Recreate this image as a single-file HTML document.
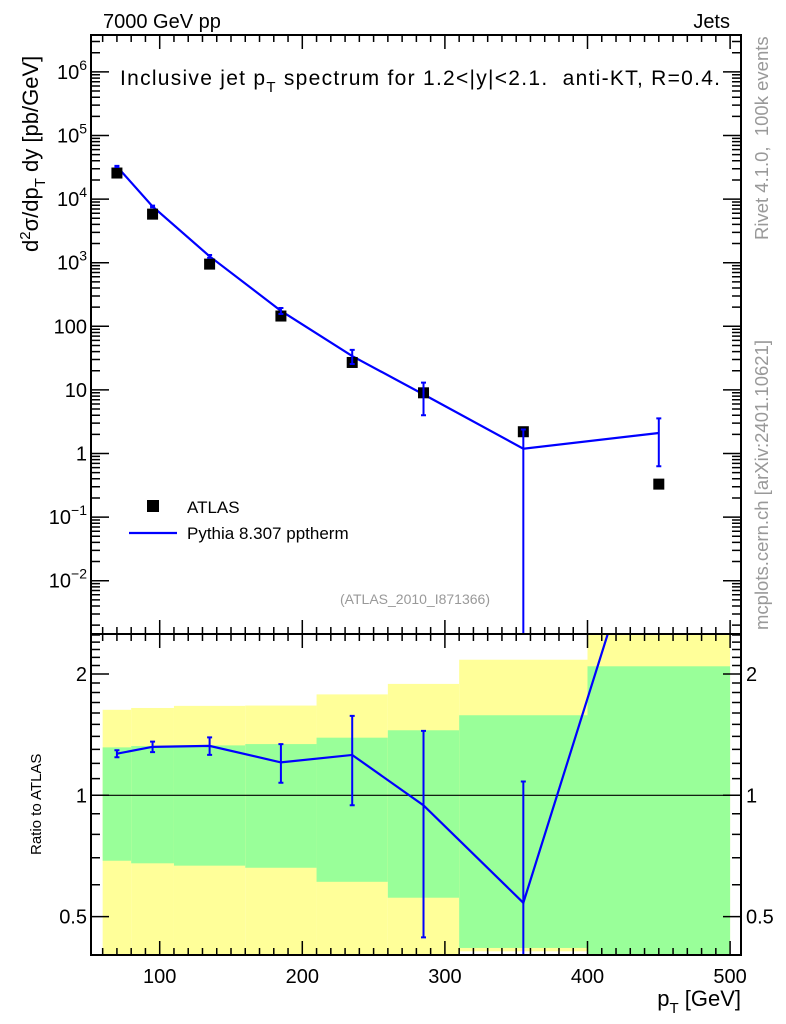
<!DOCTYPE html>
<html><head><meta charset="utf-8"><style>
body{margin:0;background:#fff}
svg{display:block;font-family:"Liberation Sans",sans-serif}
</style></head><body>
<svg id="c" width="786" height="1024" viewBox="0 0 786 1024">
<g id="bands"></g><g id="grid"></g><g id="marks"></g><g id="axes"></g>
</svg>
<script>
const binEdges=[60,80,110,160,210,260,310,400,500];
const binCenters=[70,95,135,185,235,285,355,450];
const dataVals=[25700,5800,950,145,27,9,2.2,0.33];
const mcVals=[32600,7650,1260,175,34,8.5,1.19,2.1];
const mcErrFrac=[0.02,0.03,0.05,0.11,0.25,0.53,1.0,0.7];
const greenHi=[1.315,1.325,1.33,1.34,1.39,1.45,1.58,2.09];
const greenLo=[0.688,0.678,0.669,0.661,0.61,0.557,0.418,0.3];
const yellowHi=[1.63,1.647,1.667,1.67,1.78,1.89,2.17,3.0];
const yellowLo=[0.3,0.3,0.3,0.3,0.3,0.3,0.41,0.3];
const xTicks=[100,200,300,400,500];
const yMainTicks=[1e6,1e5,1e4,1e3,100,10,1,0.1,0.01];
const yMainLabels=["10^6","10^5","10^4","10^3","100","10","1","10^-1","10^-2"];
const ratioTicks=[0.5,1,2];

const NS="http://www.w3.org/2000/svg";
const L=91,R=741,T=35,MB=634,B=955;
const X=v=>17.1+1.426*v;
const Y=v=>453.5-63.6*Math.log10(v);
const RY=v=>795.3-121.3*Math.log2(v);
const clampM=y=>Math.max(T,Math.min(MB,y));
const clampR=y=>Math.max(MB,Math.min(B,y));
function el(tag,attrs,parent,text){const e=document.createElementNS(NS,tag);for(const k in attrs)e.setAttribute(k,attrs[k]);if(text!==undefined)e.textContent=text;document.getElementById(parent).appendChild(e);return e;}

for(let i=0;i<binCenters.length;i++){
  const x0=X(binEdges[i]),x1=X(binEdges[i+1]);
  let y0=clampR(RY(yellowHi[i])),y1=clampR(RY(yellowLo[i]));
  let r=el('rect',{x:x0,y:y0,width:x1-x0,height:y1-y0,fill:'#ffff99'},'bands');
  
  
  y0=clampR(RY(greenHi[i]));y1=clampR(RY(greenLo[i]));
  r=el('rect',{x:x0,y:y0,width:x1-x0,height:y1-y0,fill:'#99ff99'},'bands');
  
  
}
let ln=el('line',{x1:L,x2:R,y1:RY(1),y2:RY(1),stroke:'#000','stroke-width':1.2},'grid');



let pts=binCenters.map((c,i)=>X(c)+','+Y(mcVals[i])).join(' ');
let pl=el('polyline',{points:pts,fill:'none',stroke:'#0000ff','stroke-width':2.2},'marks');


binCenters.forEach((c,i)=>{
  const x=X(c),y=Y(dataVals[i]);
  const s=el('rect',{x:x-5.5,y:y-5.5,width:11,height:11,fill:'#000'},'marks');
  
  
  const hi=mcVals[i]*(1+mcErrFrac[i]),lo=mcVals[i]*(1-mcErrFrac[i]);
  const yh=clampM(Y(hi)),yl=lo>0?clampM(Y(lo)):MB;
  const e=el('path',{d:`M${x},${yh}V${yl}M${x-2.5},${yh}H${x+2.5}`+(lo>0&&Y(lo)<MB?`M${x-2.5},${yl}H${x+2.5}`:''),stroke:'#0000ff','stroke-width':2,fill:'none'},'marks');
  
  
});
const ratios=binCenters.map((c,i)=>mcVals[i]/dataVals[i]);
let cp=el('clipPath',{id:'rc'},'marks');
const cr=document.createElementNS(NS,'rect');cr.setAttribute('x',L);cr.setAttribute('y',MB);cr.setAttribute('width',R-L);cr.setAttribute('height',B-MB);cp.appendChild(cr);
pts=binCenters.map((c,i)=>X(c)+','+RY(ratios[i])).join(' ');
pl=el('polyline',{points:pts,fill:'none',stroke:'#0000ff','stroke-width':2.2,'clip-path':'url(#rc)'},'marks');


binCenters.forEach((c,i)=>{
  const x=X(c),r=ratios[i];
  const hi=r*(1+mcErrFrac[i]),lo=r*(1-mcErrFrac[i]);
  if(RY(r)<MB)return;
  const yh=clampR(RY(hi)),yl=lo>0?clampR(RY(lo)):B;
  const e=el('path',{d:`M${x},${yh}V${yl}M${x-2.5},${yh}H${x+2.5}`+(lo>0&&RY(lo)<B?`M${x-2.5},${yl}H${x+2.5}`:''),stroke:'#0000ff','stroke-width':2,fill:'none'},'marks');
  
  
});

[[T,MB],[MB,B]].forEach(([a,b],k)=>{
  const f=el('rect',{x:L,y:a,width:R-L,height:b-a,fill:'none',stroke:'#000','stroke-width':2},'axes');
  
  
});
let d='';
for(let v=60;v<=500;v+=10){const x=X(v);const big=v%100===0;const l=big?14:7;
  d+=`M${x},${T}v${l}M${x},${MB}v${-l}M${x},${MB}v${l}M${x},${B}v${-l}`;}
for(let e=-3;e<=6;e++)for(let m=1;m<10;m++){const v=m*Math.pow(10,e);const y=Y(v);if(y<T||y>MB)continue;const l=m===1?18:9;d+=`M${L},${y}h${l}M${R},${y}h${-l}`;}
const rt=[0.4,0.5,0.6,0.7,0.8,0.9,1,1.1,1.2,1.3,1.4,1.5,1.6,1.7,1.8,1.9,2,2.1,2.2,2.3,2.4,2.5];
rt.forEach(v=>{const y=RY(v);if(y<MB||y>B)return;const l=ratioTicks.includes(v)?18:9;d+=`M${L},${y}h${l}M${R},${y}h${-l}`;});
let tp=el('path',{d:d,stroke:'#000','stroke-width':1.5,fill:'none'},'axes');



xTicks.forEach(v=>{const t=el('text',{x:X(v),y:983,'font-size':20,'text-anchor':'middle'},'axes',String(v));
  
  });
yMainTicks.forEach((v,i)=>{const lab=yMainLabels[i];const y=Y(v)+7;
  const t=el('text',{x:87,y:y,'font-size':20,'text-anchor':'end'},'axes');
  
  
  if(lab.includes('^')){const [b,ex]=lab.split('^');
    const s1=document.createElementNS(NS,'tspan');s1.textContent=b;t.appendChild(s1);
    const s2=document.createElementNS(NS,'tspan');s2.setAttribute('dy','-9');s2.setAttribute('font-size','14');s2.textContent=ex.replace('-','\u2212');t.appendChild(s2);}
  else t.textContent=lab;});
ratioTicks.forEach(v=>{const y=RY(v)+7;
  let t=el('text',{x:87,y:y,'font-size':20,'text-anchor':'end'},'axes',String(v));
  
  
  t=el('text',{x:746,y:y,'font-size':20},'axes',String(v));
  
  });
</script>
<svg width="786" height="1024" style="position:absolute;left:0;top:0" font-family="Liberation Sans, sans-serif">
<text x="103" y="28" font-size="20">7000 GeV pp</text>
<text x="730" y="28" font-size="20" text-anchor="end">Jets</text>
<text x="120" y="85" font-size="21" xml:space="preserve" style="white-space:pre" textLength="600" lengthAdjust="spacing">Inclusive jet p<tspan dy="7" font-size="15">T</tspan><tspan dy="-7"> spectrum for 1.2&lt;|y|&lt;2.1.  anti-KT, R=0.4.</tspan></text>
<text transform="translate(38,252) rotate(-90)" font-size="22">d<tspan dy="-8" font-size="15">2</tspan><tspan dy="8">σ/dp</tspan><tspan dy="7" font-size="15">T</tspan><tspan dy="-7"> dy [pb/GeV]</tspan></text>
<text transform="translate(41,855) rotate(-90)" font-size="15">Ratio to ATLAS</text>
<text x="741" y="1006" font-size="22" text-anchor="end">p<tspan dy="7" font-size="15">T</tspan><tspan dy="-7"> [GeV]</tspan></text>
<text transform="translate(768,240) rotate(-90)" font-size="18.5" fill="#999" xml:space="preserve" style="white-space:pre">Rivet 4.1.0,  100k events</text>
<text transform="translate(768,630) rotate(-90)" font-size="18.5" fill="#999">mcplots.cern.ch [arXiv:2401.10621]</text>
<text x="415" y="604" font-size="14" fill="#999" text-anchor="middle">(ATLAS_2010_I871366)</text>
<rect x="147" y="500" width="12" height="12" fill="#000"/>
<text x="187" y="513" font-size="17">ATLAS</text>
<line x1="129" x2="177" y1="533" y2="533" stroke="#0000ff" stroke-width="2.2"/>
<text x="187" y="539" font-size="17">Pythia 8.307 pptherm</text>
</svg>
</body></html>
